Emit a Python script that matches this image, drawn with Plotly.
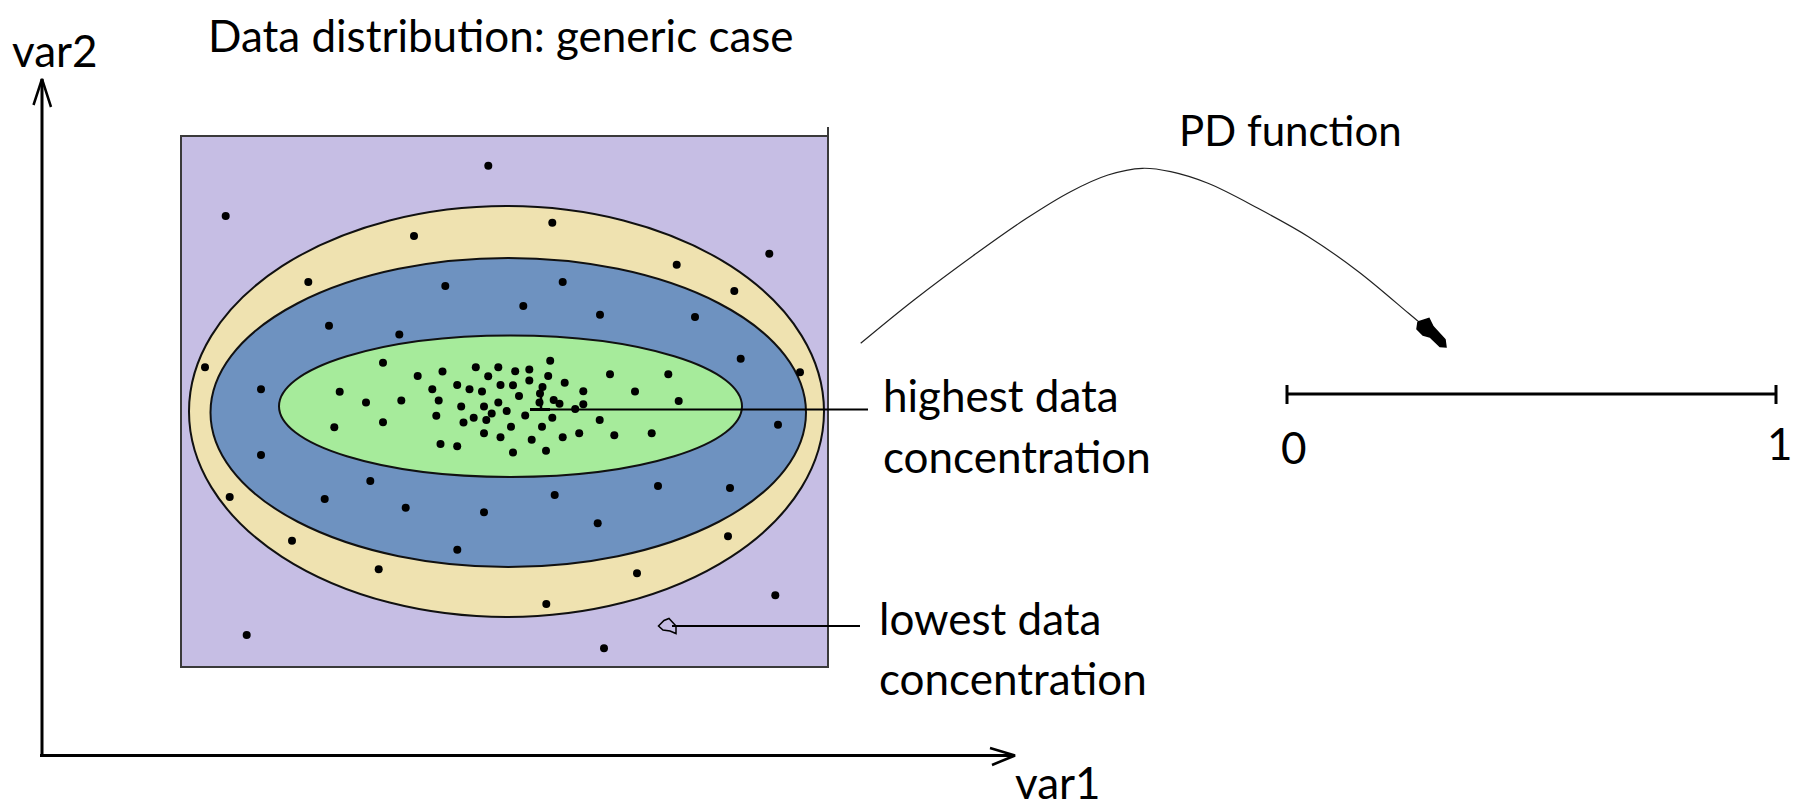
import plotly.graph_objects as go

W, H = 1802, 811
OFF = 8  # default page body margin of the html page
FONT = "Lato"
FS = 44

# ---- data (pixel-space coordinates of the hand drawn diagram) ----
purple_x = [488.3, 225.7, 769.3, 246.7, 775.3, 604.0]
purple_y = [165.7, 216.0, 253.7, 635.0, 595.3, 648.3]

beige_x = [414.0, 308.3, 205.0, 552.3, 676.7, 734.3, 800.0, 229.7, 292.0, 378.7, 728.0, 637.0, 546.3]
beige_y = [236.0, 282.0, 367.3, 222.7, 264.7, 291.0, 372.3, 497.0, 540.7, 569.3, 536.3, 573.3, 604.0]

blue_x = [445.3, 329.0, 399.3, 261.0, 562.7, 523.3, 600.0, 695.0, 740.7, 778.0,
          261.0, 370.3, 324.7, 405.7, 484.0, 457.3, 554.7, 658.0, 730.0, 597.7]
blue_y = [286.0, 325.7, 334.5, 389.3, 282.0, 306.0, 314.7, 317.0, 358.7, 424.7,
          455.0, 481.0, 499.0, 507.7, 512.3, 549.7, 495.0, 486.0, 488.0, 523.3]

green_x = [366.0, 383.0, 383.0, 334.3, 339.7, 401.3, 417.7, 432.3, 438.7, 436.3,
           440.5, 442.5, 457.2, 457.2, 461.2, 463.5, 469.5, 473.7, 475.8, 482.0,
           484.0, 484.0, 486.3, 488.2, 491.7, 498.3, 498.3, 500.5, 500.5, 506.7,
           511.0, 513.0, 513.0, 515.2, 519.0, 525.2, 529.3, 529.3, 531.7, 540.0,
           539.5, 542.5, 542.0, 546.0, 548.2, 550.2, 552.3, 553.7, 559.5, 562.7,
           564.7, 575.2, 579.2, 583.3, 583.3, 599.7, 610.0, 614.3, 635.0, 651.7,
           668.3, 678.7]
green_y = [402.5, 362.7, 422.2, 427.3, 391.7, 400.5, 376.0, 389.3, 400.5, 415.7,
           444.0, 371.5, 385.0, 446.3, 406.5, 422.5, 389.3, 417.7, 367.3, 391.5,
           406.5, 433.2, 420.0, 376.3, 413.5, 367.3, 402.5, 385.0, 437.3, 411.0,
           426.7, 385.2, 452.5, 371.2, 396.0, 415.5, 369.5, 380.5, 439.8, 393.5,
           402.5, 387.0, 426.7, 450.7, 376.0, 360.8, 417.8, 400.0, 403.8, 437.3,
           382.7, 409.0, 433.2, 391.3, 404.3, 420.0, 374.2, 435.3, 391.5, 433.3,
           374.3, 401.0]

# PD function curve
pd_x = [860.7, 914.0, 976.5, 1026.6, 1070.5, 1108.0, 1142.5, 1170.7, 1208.0, 1258.0, 1308.4, 1358.5, 1408.6, 1419.0]
pd_y = [343.3, 300.0, 253.3, 218.3, 191.7, 175.0, 168.3, 171.7, 183.3, 208.3, 236.7, 271.7, 313.3, 322.0]
pd_head_x = [1418, 1429, 1433, 1445, 1446, 1440, 1430, 1423, 1417, 1418]
pd_head_y = [322, 318.5, 326.5, 339.5, 347, 346.5, 337, 335, 329, 322]

# region boxes: (x0, y0, x1, y1)
rect_box = (181, 136, 828, 667)
beige_box = (189, 206, 824, 617)
blue_box = (210.5, 258, 806, 567)
green_box = (279, 335.5, 742, 477)

region_colors = ["#C6BEE4", "#EFE2B0", "#6E92C0", "#A6EB9B"]

# axes of the sketch
yaxis_line_x = [42, 42]
yaxis_line_y = [757, 79]
yhead_x = [33.5, 42, 51]
yhead_y = [105, 79, 107]
xaxis_line_x = [40, 1014]
xaxis_line_y = [755.5, 755.5]
xhead_x = [990, 1015, 992]
xhead_y = [748, 755.5, 765]

# unit interval [0, 1]
unit_x = [1287, 1776]
unit_y = [394, 394]
tick_y = [385, 404]

# leader lines
high_line_x = [530, 868]
high_line_y = [409.5, 409.5]
high_mark_x = [541, 541]
high_mark_y = [385, 411]
low_line_x = [672, 860]
low_line_y = [626, 626]
low_head_x = [676, 669, 664, 658.5, 663, 670, 676, 676]
low_head_y = [626, 618.5, 620.5, 626, 630, 631, 633.5, 626]

# (text, x, y, xanchor, yanchor, size)
texts = [
    ("Data distribution: generic case", 206, 35, "left", "middle", FS),
    ("var2", 10, 50, "left", "middle", FS),
    ("var1", 1013, 810, "left", "bottom", FS),
    ("PD function", 1177, 130, "left", "middle", 42),
    ("highest data", 881, 395, "left", "middle", FS),
    ("concentration", 881, 456, "left", "middle", FS),
    ("lowest data", 877, 618, "left", "middle", FS),
    ("concentration", 877, 678, "left", "middle", FS),
    ("0", 1294, 447, "center", "middle", FS),
    ("1", 1780, 443, "center", "middle", FS),
]

fig = go.Figure()

shapes = []
x0, y0, x1, y1 = rect_box
shapes.append(dict(type="rect", x0=x0, y0=y0, x1=x1, y1=y1, xref="x", yref="y",
                   fillcolor=region_colors[0], line=dict(color="#3a3a3a", width=2), layer="below"))
for box, col in zip([beige_box, blue_box, green_box], region_colors[1:]):
    shapes.append(dict(type="circle", x0=box[0], y0=box[1], x1=box[2], y1=box[3], xref="x", yref="y",
                       fillcolor=col, line=dict(color="#111111", width=2), layer="below"))
shapes.append(dict(type="line", x0=x1, x1=x1, y0=127, y1=y0, xref="x", yref="y",
                   line=dict(color="#3a3a3a", width=2)))
fig.update_layout(shapes=shapes)


def line(xs, ys, w=1.5, color="black", fill=None, shape="linear"):
    fig.add_trace(go.Scatter(x=xs, y=ys, mode="lines", line=dict(color=color, width=w, shape=shape),
                             fill=fill, fillcolor=color if fill else None,
                             hoverinfo="skip", showlegend=False))


# dots
for xs, ys in [(purple_x, purple_y), (beige_x, beige_y), (blue_x, blue_y), (green_x, green_y)]:
    fig.add_trace(go.Scatter(x=xs, y=ys, mode="markers",
                             marker=dict(color="black", size=8, symbol="circle"),
                             hoverinfo="skip", showlegend=False))

# sketch axes
line(yaxis_line_x, yaxis_line_y, 3)
line(yhead_x, yhead_y, 2.5)
line(xaxis_line_x, xaxis_line_y, 3)
line(xhead_x, xhead_y, 2.5)

# leaders
line(high_line_x, high_line_y, 1.8)
line([530, 550], [409.5, 409.5], 3)
line(high_mark_x, high_mark_y, 2.5)
line(low_line_x, low_line_y, 1.8)
line(low_head_x, low_head_y, 1.5)

# PD curve
line(pd_x, pd_y, 1.2, color="#222222", shape="spline")
line(pd_head_x, pd_head_y, 1.5, fill="toself")

# unit interval
line(unit_x, unit_y, 3.2)
line([unit_x[0], unit_x[0]], tick_y, 3)
line([unit_x[1], unit_x[1]], tick_y, 3)

annotations = []
for t, x, y, xa, ya, fs in texts:
    annotations.append(dict(text=t, x=x, y=y, xref="x", yref="y", xanchor=xa, yanchor=ya,
                            showarrow=False, font=dict(family=FONT, size=fs, color="black")))

fig.update_layout(
    width=W, height=H,
    margin=dict(l=0, r=0, t=0, b=0),
    paper_bgcolor="white", plot_bgcolor="white",
    xaxis=dict(range=[OFF, W + OFF], visible=False, fixedrange=True),
    yaxis=dict(range=[H + OFF, OFF], visible=False, fixedrange=True),
    annotations=annotations,
    showlegend=False,
)

fig.write_html("out.html")
